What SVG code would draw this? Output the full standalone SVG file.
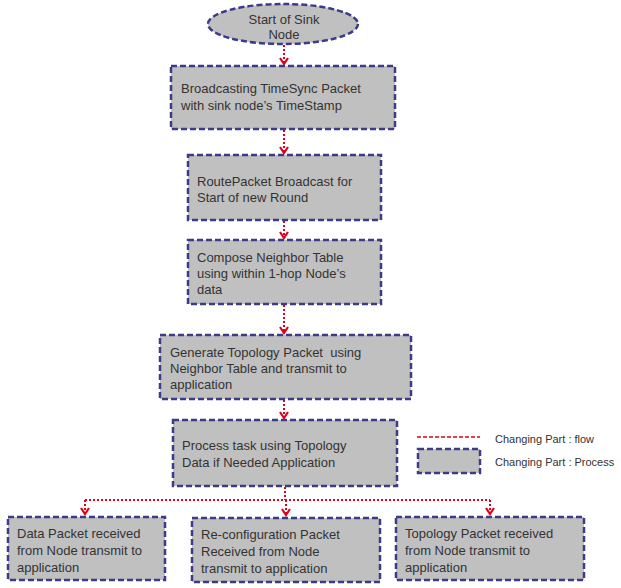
<svg xmlns="http://www.w3.org/2000/svg" width="621" height="588" viewBox="0 0 621 588">
<style>
.n{fill:#c0c0c0;stroke:#3d3a8a;stroke-width:2.5;stroke-dasharray:6 3}
.t{font-family:"Liberation Sans",Arial,sans-serif;font-size:13px;fill:#333}
.c{fill:none;stroke:#e0001a;stroke-width:2;stroke-dasharray:2 2}
</style>
<defs>
<marker id="ah" markerWidth="10" markerHeight="10" refX="8" refY="5" orient="auto" markerUnits="userSpaceOnUse" viewBox="0 0 10 10">
<path d="M2,1 L8,5 L2,9" fill="none" stroke="#e0001a" stroke-width="2.2"/>
</marker>
</defs>
<rect width="621" height="588" fill="#fff"/>
<g id="connectors">
<path class="c" d="M284,45 V64" marker-end="url(#ah)"/>
<path class="c" d="M284,130 V153" marker-end="url(#ah)"/>
<path class="c" d="M284,221 V238" marker-end="url(#ah)"/>
<path class="c" d="M284,305 V333" marker-end="url(#ah)"/>
<path class="c" d="M284,400 V418" marker-end="url(#ah)"/>
<path class="c" d="M285,487 V500 M85,500 H490"/>
<path class="c" d="M85,500 V514" marker-end="url(#ah)"/>
<path class="c" d="M286,500 V515" marker-end="url(#ah)"/>
<path class="c" d="M490,500 V514" marker-end="url(#ah)"/>
</g>
<g id="start">
<ellipse class="n" cx="283" cy="24" rx="75" ry="20"/>
<text class="t" x="284" y="24" text-anchor="middle">Start of Sink</text>
<text class="t" x="284" y="39" text-anchor="middle">Node</text>
</g>
<g id="broadcast">
<rect class="n" x="171" y="66" width="224" height="63"/>
<text class="t" x="181" y="93">Broadcasting TimeSync Packet</text>
<text class="t" x="181" y="110">with sink node’s TimeStamp</text>
</g>
<g id="route">
<rect class="n" x="188" y="155" width="193" height="65"/>
<text class="t" x="197" y="186">RoutePacket Broadcast for</text>
<text class="t" x="197" y="202">Start of new Round</text>
</g>
<g id="compose">
<rect class="n" x="188" y="240" width="193" height="64"/>
<text class="t" x="197" y="262">Compose Neighbor Table</text>
<text class="t" x="197" y="278">using within 1-hop Node’s</text>
<text class="t" x="197" y="294">data</text>
</g>
<g id="generate">
<rect class="n" x="160" y="335" width="251" height="64"/>
<text class="t" x="170" y="357" xml:space="preserve">Generate Topology Packet  using</text>
<text class="t" x="170" y="373">Neighbor Table and transmit to</text>
<text class="t" x="170" y="389">application</text>
</g>
<g id="process">
<rect class="n" x="173" y="420" width="224" height="66"/>
<text class="t" x="182" y="450">Process task using Topology</text>
<text class="t" x="182" y="467">Data if Needed Application</text>
</g>
<g id="data">
<rect class="n" x="8" y="517" width="157" height="63"/>
<text class="t" x="17" y="538">Data Packet received</text>
<text class="t" x="17" y="555">from Node transmit to</text>
<text class="t" x="17" y="572">application</text>
</g>
<g id="reconfig">
<rect class="n" x="192" y="518" width="188" height="64"/>
<text class="t" x="201" y="539">Re-configuration Packet</text>
<text class="t" x="201" y="556">Received from Node</text>
<text class="t" x="201" y="573">transmit to application</text>
</g>
<g id="topology">
<rect class="n" x="396" y="517" width="188" height="63"/>
<text class="t" x="405" y="538">Topology Packet received</text>
<text class="t" x="405" y="555">from Node transmit to</text>
<text class="t" x="405" y="572">application</text>
</g>
<g id="legend">
<line x1="417" y1="437" x2="480" y2="437" stroke="#e0001a" stroke-width="1.5" stroke-dasharray="4 2"/>
<rect class="n" x="418" y="449" width="62" height="24"/>
<text class="t" x="495" y="443" style="font-size:11px">Changing Part : flow</text>
<text class="t" x="495" y="466" style="font-size:11px">Changing Part : Process</text>
</g>
</svg>
